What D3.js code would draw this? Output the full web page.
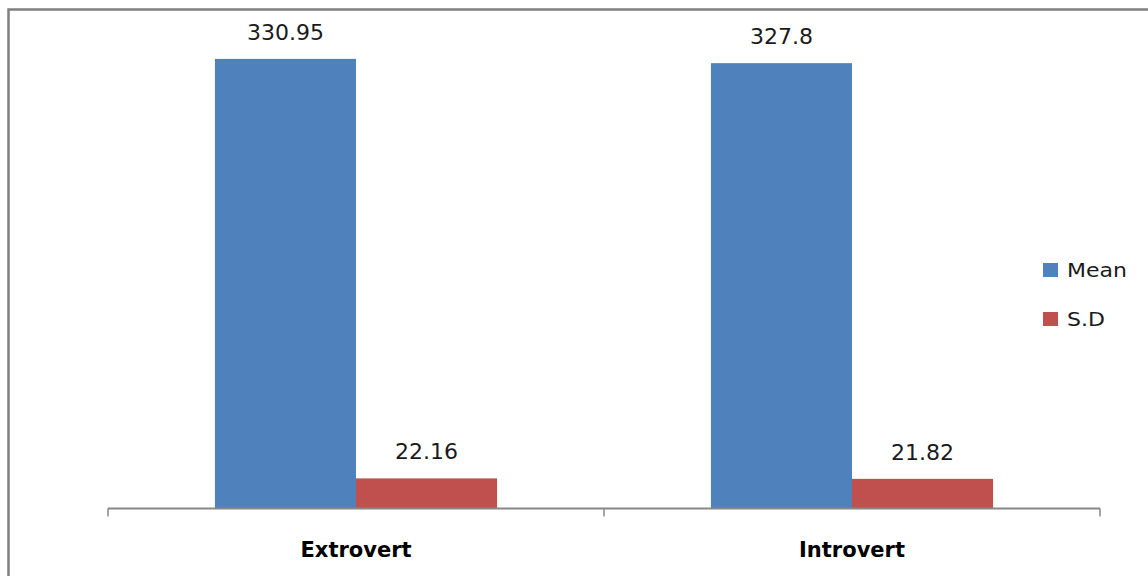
<!DOCTYPE html>
<html>
<head>
<meta charset="utf-8">
<script src="https://cdn.jsdelivr.net/npm/d3@7"></script>
<style>
  html, body { margin: 0; padding: 0; background: #ffffff; }
  svg { display: block; }
</style>
</head>
<body>
<svg id="chart" width="1148" height="576"></svg>
<script>
// Personality groups and their summary statistics
const categories = ["Extrovert", "Introvert"];
const seriesNames = ["Mean", "S.D"];
const meanValues = [330.95, 327.8];
const sdValues = [22.16, 21.82];
const seriesColors = ["#4F81BD", "#C0504D"];

const rows = categories.map((c, i) => ({ category: c, values: [meanValues[i], sdValues[i]] }));

const svg = d3.select("#chart");

// Chart frame (runs past the right and bottom edges)
svg.append("rect")
  .attr("x", 8.5).attr("y", 9.5)
  .attr("width", 1300).attr("height", 700)
  .attr("fill", "#ffffff")
  .attr("stroke", "#7f7f7f")
  .attr("stroke-width", 2.5);

const plot = { left: 108, right: 1100, top: 33, bottom: 508.5 };

const x = d3.scaleBand()
  .domain(categories)
  .range([plot.left, plot.right])
  .paddingInner(0)
  .paddingOuter(0);

const inner = d3.scaleBand()
  .domain(seriesNames)
  .range([0, x.bandwidth()])
  .paddingInner(0)
  .paddingOuter(0.758);

const y = d3.scaleLinear().domain([0, 350]).range([plot.bottom, plot.top]);

const fontLabel = "'DejaVu Sans', 'Liberation Sans', sans-serif";

// Bars
const groups = svg.append("g").selectAll("g")
  .data(rows)
  .join("g")
  .attr("transform", d => `translate(${x(d.category)},0)`);

groups.selectAll("rect")
  .data(d => d.values.map((v, j) => ({ series: seriesNames[j], value: v, color: seriesColors[j] })))
  .join("rect")
  .attr("x", d => inner(d.series))
  .attr("width", inner.bandwidth())
  .attr("y", d => y(d.value))
  .attr("height", d => y(0) - y(d.value))
  .attr("fill", d => d.color);

// Value labels above bars
groups.selectAll("text.value")
  .data(d => d.values.map((v, j) => ({ series: seriesNames[j], value: v })))
  .join("text")
  .attr("class", "value")
  .attr("x", d => inner(d.series) + inner.bandwidth() / 2)
  .attr("y", d => y(d.value) - 19)
  .attr("text-anchor", "middle")
  .attr("font-family", fontLabel)
  .attr("font-size", 22)
  .attr("fill", "#1a1a1a")
  .text(d => String(d.value));

// Category axis
const axisG = svg.append("g")
  .attr("transform", `translate(0,${plot.bottom})`)
  .call(d3.axisBottom(x).tickSize(0).tickPadding(34));

axisG.select(".domain")
  .attr("stroke", "#878787")
  .attr("stroke-width", 2)
  .attr("d", `M${plot.left},0H${plot.right}`);

axisG.selectAll(".tick text")
  .attr("font-family", fontLabel)
  .attr("font-size", 21)
  .attr("font-weight", "bold")
  .attr("fill", "#000000");

// Tick marks on category boundaries
const boundaries = categories.map(c => x(c)).concat([x(categories[categories.length - 1]) + x.step()]);
axisG.selectAll("line.boundary")
  .data(boundaries)
  .join("line")
  .attr("class", "boundary")
  .attr("x1", d => d).attr("x2", d => d)
  .attr("y1", 0).attr("y2", 8)
  .attr("stroke", "#878787")
  .attr("stroke-width", 1.5);

// Legend
const legend = svg.append("g").attr("transform", "translate(1043,0)");
const legendRows = [{ name: "Mean", color: seriesColors[0], y: 263 }, { name: "S.D", color: seriesColors[1], y: 312 }];
legendRows.forEach(r => {
  legend.append("rect")
    .attr("x", 0).attr("y", r.y)
    .attr("width", 15).attr("height", 14)
    .attr("fill", r.color);
  legend.append("text")
    .attr("transform", `translate(24,${r.y + 14}) scale(1.1,1)`)
    .attr("font-family", fontLabel)
    .attr("font-size", 20)
    .attr("fill", "#1a1a1a")
    .text(r.name);
});
</script>
</body>
</html>
